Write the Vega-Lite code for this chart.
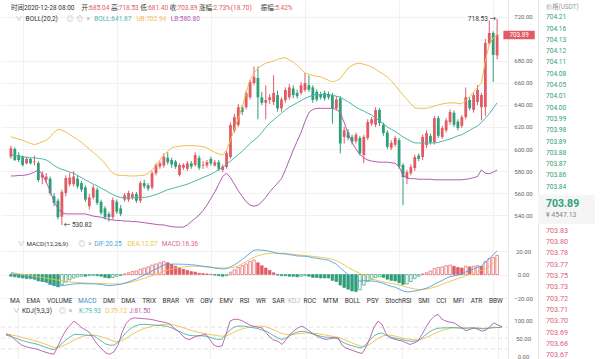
{
"$schema":"https://vega.github.io/schema/vega-lite/v6.json",
"padding":0,
"background":"white",
"config":{"view":{"stroke":null},"font":"Roboto, 'Noto Sans CJK SC', sans-serif","axis":{"labelFont":"Roboto","labelFontSize":6,"labelColor":"#666","labelOverlap":false,"ticks":false,"tickSize":0,"title":null,"gridColor":"#f1f1f1","domainColor":"#e6e6e6"},"text":{"font":"Roboto, 'Noto Sans CJK SC', sans-serif","baseline":"middle"}},
"datasets":{
"k":[
{"i":0,"o":593,"h":603,"l":591,"c":600.6,"u":611,"m":594.5,"b":575.5,"f":1.05,"e":1.8,"g":-1.5,"K":58,"D":60,"J":62},
{"i":1,"o":600,"h":601.5,"l":589,"c":590,"u":610,"m":594,"b":575.5,"f":0.3,"e":1.3,"g":-2,"K":55,"D":59,"J":58},
{"i":2,"o":594.5,"h":597,"l":588,"c":590,"u":609,"m":593.5,"b":576,"f":-0.55,"e":0.7,"g":-2.5,"K":51,"D":57,"J":48},
{"i":3,"o":593,"h":594,"l":584,"c":585.5,"u":608,"m":593,"b":576,"f":-1.3,"e":0.2,"g":-3,"K":47,"D":55,"J":38},
{"i":4,"o":587,"h":593,"l":586,"c":591,"u":606.5,"m":592.5,"b":576.5,"f":-2.05,"e":-0.3,"g":-3.5,"K":43,"D":52,"J":30},
{"i":5,"o":591,"h":592,"l":586,"c":587,"u":605,"m":592,"b":577.5,"f":-2.65,"e":-0.9,"g":-3.5,"K":40,"D":49,"J":26},
{"i":6,"o":588,"h":594,"l":585,"c":588.6,"u":604,"m":592,"b":579,"f":-3.4,"e":-1.4,"g":-4,"K":37,"D":46,"J":23},
{"i":7,"o":587.3,"h":589,"l":570,"c":571.8,"u":605,"m":591.5,"b":581,"f":-4.75,"e":-2,"g":-5.5,"K":35,"D":43,"J":21},
{"i":8,"o":574,"h":580,"l":568,"c":577,"u":606.5,"m":591,"b":577,"f":-5.5,"e":-2.5,"g":-6,"K":32,"D":40,"J":18},
{"i":9,"o":572,"h":578,"l":569,"c":575,"u":608,"m":590,"b":570,"f":-6.35,"e":-3.1,"g":-6.5,"K":28,"D":36,"J":14},
{"i":10,"o":573,"h":575,"l":558,"c":560,"u":611,"m":588,"b":562,"f":-7.95,"e":-3.7,"g":-8.5,"K":24,"D":32,"J":10},
{"i":11,"o":557,"h":560,"l":548,"c":551,"u":615,"m":585,"b":552,"f":-8.95,"e":-4.2,"g":-9.5,"K":20,"D":28,"J":7},
{"i":12,"o":553,"h":555,"l":536,"c":538,"u":618,"m":583,"b":546,"f":-10.05,"e":-4.8,"g":-10.5,"K":17,"D":24,"J":5},
{"i":13,"o":538.5,"h":563,"l":530.82,"c":561,"u":617,"m":581.5,"b":542,"f":-9.55,"e":-5.3,"g":-8.5,"K":25,"D":24,"J":28},
{"i":14,"o":560,"h":576,"l":557,"c":573.6,"u":615.5,"m":580.5,"b":541,"f":-9.05,"e":-5.8,"g":-6.5,"K":35,"D":27,"J":52},
{"i":15,"o":568,"h":578,"l":566,"c":574,"u":613,"m":579,"b":541,"f":-8.45,"e":-6.2,"g":-4.5,"K":45,"D":32,"J":72},
{"i":16,"o":568,"h":580,"l":566,"c":575,"u":611,"m":578,"b":541,"f":-8.1,"e":-6.6,"g":-3,"K":53,"D":38,"J":85},
{"i":17,"o":573,"h":576,"l":564,"c":566,"u":608.5,"m":576,"b":541,"f":-7.8,"e":-6.8,"g":-2,"K":60,"D":44,"J":97},
{"i":18,"o":569,"h":571,"l":561,"c":563,"u":606,"m":574,"b":541,"f":-7.75,"e":-7,"g":-1.5,"K":60,"D":49,"J":88},
{"i":19,"o":565,"h":567,"l":552,"c":554,"u":603,"m":572,"b":541,"f":-7.95,"e":-7.2,"g":-1.5,"K":59,"D":54,"J":78},
{"i":20,"o":548,"h":559,"l":545,"c":556,"u":600,"m":570,"b":540,"f":-7.9,"e":-7.4,"g":-1,"K":58,"D":57,"J":72},
{"i":21,"o":556,"h":567,"l":554,"c":565,"u":597,"m":568,"b":539,"f":-7.9,"e":-7.5,"g":-0.8,"K":57,"D":58,"J":64},
{"i":22,"o":563,"h":565,"l":549,"c":551,"u":594,"m":566.5,"b":538.5,"f":-8.1,"e":-7.6,"g":-1,"K":56,"D":58,"J":45},
{"i":23,"o":552,"h":554,"l":540,"c":542,"u":590.5,"m":564.5,"b":538,"f":-8.45,"e":-7.7,"g":-1.5,"K":48,"D":56,"J":30},
{"i":24,"o":546,"h":548,"l":536,"c":538,"u":587,"m":562.7,"b":537,"f":-9.05,"e":-7.8,"g":-2.5,"K":40,"D":53,"J":19},
{"i":25,"o":541,"h":543,"l":534,"c":538,"u":582,"m":560.5,"b":536,"f":-9.4,"e":-7.9,"g":-3,"K":33,"D":49,"J":8},
{"i":26,"o":538,"h":556,"l":536,"c":553.6,"u":578,"m":558.5,"b":535.5,"f":-9.25,"e":-8,"g":-2.5,"K":30,"D":45,"J":5},
{"i":27,"o":552,"h":554,"l":541,"c":543,"u":576.5,"m":557,"b":535,"f":-8.75,"e":-8,"g":-1.5,"K":30,"D":41,"J":12},
{"i":28,"o":546,"h":549,"l":539,"c":541,"u":576,"m":556,"b":535,"f":-8.3,"e":-7.9,"g":-0.8,"K":38,"D":40,"J":30},
{"i":29,"o":554,"h":560,"l":552,"c":558,"u":576,"m":555.5,"b":534.5,"f":-7.35,"e":-7.6,"g":0.5,"K":52,"D":43,"J":65},
{"i":30,"o":554,"h":562,"l":552,"c":560,"u":575.5,"m":555.5,"b":534.5,"f":-6.25,"e":-7,"g":1.5,"K":65,"D":49,"J":90},
{"i":31,"o":556,"h":561,"l":554,"c":559,"u":575.5,"m":555.5,"b":534,"f":-4.95,"e":-6.2,"g":2.5,"K":75,"D":56,"J":102},
{"i":32,"o":559,"h":561,"l":551,"c":553,"u":575.5,"m":556,"b":534,"f":-3.8,"e":-5.3,"g":3,"K":82,"D":63,"J":106},
{"i":33,"o":553,"h":571,"l":551,"c":569,"u":576,"m":556,"b":533.5,"f":-2.05,"e":-4.3,"g":4.5,"K":86,"D":69,"J":105},
{"i":34,"o":569,"h":572,"l":564,"c":566,"u":576,"m":556,"b":533,"f":-0.45,"e":-3.2,"g":5.5,"K":88,"D":74,"J":104},
{"i":35,"o":567,"h":569,"l":562,"c":564,"u":578,"m":556.5,"b":532.5,"f":1.15,"e":-2.1,"g":6.5,"K":88,"D":78,"J":103},
{"i":36,"o":565,"h":580,"l":563,"c":578,"u":581,"m":557.5,"b":532,"f":3,"e":-1,"g":8,"K":87,"D":81,"J":102},
{"i":37,"o":578,"h":587,"l":576,"c":585.5,"u":585,"m":558.5,"b":531.5,"f":4.8,"e":0.3,"g":9,"K":86,"D":84,"J":100},
{"i":38,"o":584,"h":589,"l":582,"c":587,"u":590,"m":560,"b":531,"f":6.5,"e":1.5,"g":10,"K":85,"D":86,"J":97},
{"i":39,"o":585,"h":596,"l":583,"c":593,"u":594.5,"m":561.5,"b":531,"f":8.05,"e":2.6,"g":10.9,"K":84,"D":87,"J":95},
{"i":40,"o":592,"h":597,"l":586,"c":588,"u":598,"m":563,"b":530,"f":8.7,"e":3.7,"g":10,"K":83,"D":88,"J":93},
{"i":41,"o":590,"h":592,"l":583,"c":586,"u":601,"m":564,"b":529.5,"f":8.85,"e":4.6,"g":8.5,"K":80,"D":88,"J":88},
{"i":42,"o":588.5,"h":590,"l":582,"c":584,"u":602,"m":565,"b":529,"f":8.9,"e":5.4,"g":7,"K":75,"D":86,"J":78},
{"i":43,"o":576.4,"h":587,"l":575,"c":585.5,"u":602.5,"m":566,"b":529,"f":8.75,"e":6,"g":5.5,"K":70,"D":83,"J":69},
{"i":44,"o":583,"h":587,"l":581,"c":585.5,"u":603,"m":567,"b":529,"f":8.75,"e":6.5,"g":4.5,"K":65,"D":80,"J":58},
{"i":45,"o":582,"h":589,"l":580,"c":587,"u":603,"m":568,"b":531,"f":8.55,"e":6.8,"g":3.5,"K":60,"D":76,"J":48},
{"i":46,"o":587,"h":589,"l":582,"c":584,"u":603,"m":569.5,"b":534,"f":8.25,"e":7,"g":2.5,"K":57,"D":72,"J":46},
{"i":47,"o":585.5,"h":597,"l":584,"c":594.5,"u":603,"m":571,"b":537,"f":8,"e":7,"g":2,"K":56,"D":69,"J":52},
{"i":48,"o":592,"h":594,"l":581,"c":583,"u":602.5,"m":572.5,"b":540,"f":7.4,"e":6.9,"g":1,"K":56,"D":66,"J":56},
{"i":49,"o":585,"h":589,"l":582,"c":585.6,"u":602,"m":574,"b":544,"f":7.1,"e":6.7,"g":0.8,"K":56,"D":64,"J":58},
{"i":50,"o":585,"h":590,"l":583,"c":588,"u":601,"m":575.5,"b":549,"f":6.65,"e":6.4,"g":0.5,"K":55,"D":62,"J":60},
{"i":51,"o":591,"h":593,"l":585,"c":587,"u":599,"m":577,"b":555,"f":6.2,"e":6.1,"g":0.2,"K":52,"D":60,"J":45},
{"i":52,"o":585,"h":590,"l":584,"c":588,"u":597,"m":579,"b":561,"f":5.55,"e":5.8,"g":-0.5,"K":48,"D":58,"J":30},
{"i":53,"o":588,"h":590,"l":580,"c":582,"u":595.5,"m":581,"b":568,"f":5.1,"e":5.6,"g":-1,"K":46,"D":56,"J":26},
{"i":54,"o":581,"h":586,"l":579,"c":584,"u":594.5,"m":583.5,"b":575,"f":4.75,"e":5.5,"g":-1.5,"K":47,"D":55,"J":28},
{"i":55,"o":583.6,"h":598,"l":582,"c":596.4,"u":599,"m":586,"b":578,"f":5,"e":5.5,"g":-1,"K":60,"D":56,"J":60},
{"i":56,"o":592.7,"h":624,"l":591,"c":621.8,"u":608,"m":589,"b":574,"f":6.6,"e":5.6,"g":2,"K":72,"D":60,"J":97},
{"i":57,"o":617,"h":632,"l":615,"c":629,"u":618,"m":592,"b":568,"f":8.2,"e":6.2,"g":4,"K":80,"D":66,"J":102},
{"i":58,"o":622,"h":641,"l":620,"c":638,"u":628,"m":595,"b":562,"f":10.4,"e":7.4,"g":6,"K":83,"D":71,"J":102},
{"i":59,"o":638,"h":640,"l":631,"c":633.6,"u":638,"m":598,"b":557,"f":12.75,"e":9,"g":7.5,"K":83,"D":75,"J":98},
{"i":60,"o":638,"h":653,"l":636,"c":651,"u":651,"m":601.5,"b":552,"f":15.5,"e":11,"g":9,"K":82,"D":78,"J":92},
{"i":61,"o":647,"h":663,"l":645,"c":661,"u":663,"m":605,"b":549,"f":18.3,"e":12.8,"g":11,"K":80,"D":80,"J":86},
{"i":62,"o":660,"h":675,"l":658,"c":665.5,"u":669,"m":608,"b":548,"f":20.65,"e":14.5,"g":12.3,"K":78,"D":82,"J":82},
{"i":63,"o":664.5,"h":675,"l":627,"c":647,"u":673.6,"m":611,"b":549,"f":21,"e":16,"g":10,"K":76,"D":83,"J":80},
{"i":64,"o":647,"h":652,"l":640,"c":642,"u":676,"m":615,"b":552,"f":20.65,"e":16.9,"g":7.5,"K":72,"D":83,"J":78},
{"i":65,"o":642,"h":658,"l":627,"c":644.5,"u":678,"m":619.5,"b":556,"f":20.35,"e":17.6,"g":5.5,"K":69,"D":81,"J":65},
{"i":66,"o":644.5,"h":650,"l":641,"c":647,"u":679,"m":623.5,"b":561,"f":19.75,"e":18,"g":3.5,"K":63,"D":77,"J":52},
{"i":67,"o":642.7,"h":667,"l":640,"c":651,"u":680,"m":626.5,"b":565,"f":18.95,"e":18.2,"g":1.5,"K":56,"D":72,"J":44},
{"i":68,"o":649,"h":653,"l":634,"c":637,"u":681.5,"m":629.5,"b":569,"f":17.95,"e":18.2,"g":-0.5,"K":50,"D":67,"J":41},
{"i":69,"o":637,"h":647,"l":634,"c":645,"u":682.5,"m":632.5,"b":573,"f":17.6,"e":18.1,"g":-1,"K":46,"D":62,"J":32},
{"i":70,"o":644.5,"h":656,"l":642,"c":653.6,"u":683,"m":635.5,"b":581,"f":17.5,"e":18,"g":-1,"K":50,"D":60,"J":45},
{"i":71,"o":647,"h":659,"l":645,"c":656,"u":681,"m":638,"b":590,"f":16.85,"e":17.6,"g":-1.5,"K":57,"D":59,"J":60},
{"i":72,"o":655,"h":658,"l":646,"c":649,"u":679,"m":640,"b":599,"f":16.45,"e":17.2,"g":-1.5,"K":63,"D":60,"J":70},
{"i":73,"o":651,"h":654,"l":646,"c":648,"u":676,"m":642,"b":607,"f":15.8,"e":16.8,"g":-2,"K":67,"D":62,"J":78},
{"i":74,"o":651,"h":661,"l":649,"c":658,"u":672.5,"m":644,"b":615,"f":15.65,"e":16.4,"g":-1.5,"K":69,"D":63,"J":83},
{"i":75,"o":653.6,"h":669,"l":652,"c":660,"u":669,"m":646,"b":625,"f":15.6,"e":16.1,"g":-1,"K":67,"D":64,"J":76},
{"i":76,"o":658,"h":667,"l":652,"c":654,"u":668,"m":647.5,"b":633,"f":15.05,"e":15.8,"g":-1.5,"K":64,"D":64,"J":68},
{"i":77,"o":656,"h":658,"l":642,"c":644.5,"u":667,"m":649,"b":636,"f":14.25,"e":15.5,"g":-2.5,"K":60,"D":63,"J":60},
{"i":78,"o":652,"h":654,"l":643,"c":645,"u":666,"m":649.5,"b":637,"f":13.85,"e":15.1,"g":-2.5,"K":57,"D":62,"J":54},
{"i":79,"o":650,"h":652,"l":645,"c":647,"u":665.5,"m":649.5,"b":637,"f":13.2,"e":14.7,"g":-3,"K":54,"D":60,"J":49},
{"i":80,"o":651,"h":653,"l":644,"c":646,"u":664,"m":649.5,"b":637,"f":12.7,"e":14.2,"g":-3,"K":52,"D":58,"J":46},
{"i":81,"o":650,"h":652,"l":645,"c":647,"u":662.5,"m":649,"b":637,"f":12.2,"e":13.7,"g":-3,"K":52,"D":56,"J":48},
{"i":82,"o":649,"h":651,"l":623,"c":637,"u":661,"m":649,"b":637,"f":10.5,"e":13,"g":-5,"K":51,"D":54,"J":50},
{"i":83,"o":637,"h":648,"l":635,"c":645,"u":662,"m":648,"b":636,"f":8.8,"e":11.8,"g":-6,"K":47,"D":52,"J":51},
{"i":84,"o":646,"h":648,"l":596,"c":605,"u":664,"m":647,"b":633,"f":5.7,"e":10.2,"g":-9,"K":40,"D":48,"J":30},
{"i":85,"o":611,"h":620,"l":605,"c":617,"u":669,"m":645,"b":624,"f":2.7,"e":8.2,"g":-11,"K":34,"D":44,"J":22},
{"i":86,"o":615,"h":618,"l":608,"c":610,"u":673.6,"m":643,"b":614,"f":-0.25,"e":6,"g":-12.5,"K":30,"D":39,"J":18},
{"i":87,"o":611,"h":613,"l":604,"c":606.6,"u":676,"m":640.5,"b":606,"f":-2.8,"e":4.2,"g":-14,"K":27,"D":34,"J":14},
{"i":88,"o":607,"h":615,"l":605,"c":613,"u":677.5,"m":638,"b":600,"f":-4.65,"e":2.6,"g":-14.5,"K":24,"D":30,"J":10},
{"i":89,"o":610,"h":612,"l":594,"c":596,"u":678,"m":636,"b":595,"f":-5.5,"e":1,"g":-13,"K":23,"D":27,"J":7},
{"i":90,"o":594.5,"h":613,"l":587,"c":611,"u":677,"m":634.5,"b":592,"f":-5.3,"e":-0.8,"g":-9,"K":32,"D":27,"J":25},
{"i":91,"o":610,"h":627,"l":608,"c":624.5,"u":676,"m":632.5,"b":590,"f":-5.2,"e":-2.2,"g":-6,"K":45,"D":33,"J":50},
{"i":92,"o":623,"h":629,"l":621,"c":627,"u":674.5,"m":631,"b":589,"f":-5.5,"e":-3.5,"g":-4,"K":56,"D":41,"J":80},
{"i":93,"o":622,"h":638,"l":620,"c":635.5,"u":672.5,"m":628,"b":588.5,"f":-5.85,"e":-4.6,"g":-2.5,"K":62,"D":49,"J":97},
{"i":94,"o":635.5,"h":637,"l":621,"c":623.6,"u":670,"m":625.5,"b":588,"f":-6.6,"e":-5.6,"g":-2,"K":64,"D":55,"J":88},
{"i":95,"o":622,"h":624,"l":612,"c":614.5,"u":668,"m":623,"b":588,"f":-7.55,"e":-6.3,"g":-2.5,"K":58,"D":58,"J":62},
{"i":96,"o":615,"h":617,"l":600,"c":602,"u":665.5,"m":620,"b":588,"f":-8.9,"e":-6.9,"g":-4,"K":53,"D":58,"J":51},
{"i":97,"o":601,"h":608,"l":599,"c":605.6,"u":662,"m":618,"b":587.5,"f":-10,"e":-7.5,"g":-5,"K":50,"D":56,"J":47},
{"i":98,"o":604,"h":612,"l":602,"c":610,"u":658,"m":616,"b":587,"f":-10.85,"e":-8.1,"g":-5.5,"K":48,"D":53,"J":44},
{"i":99,"o":608,"h":610,"l":582,"c":584,"u":653.5,"m":613.5,"b":584,"f":-12.3,"e":-8.8,"g":-7,"K":46,"D":50,"J":42},
{"i":100,"o":585.5,"h":587,"l":549,"c":574.5,"u":649,"m":611,"b":576,"f":-14.05,"e":-9.8,"g":-8.5,"K":43,"D":48,"J":37},
{"i":101,"o":573.6,"h":581,"l":568,"c":579,"u":645,"m":609,"b":573.5,"f":-14.8,"e":-10.8,"g":-8,"K":41,"D":46,"J":32},
{"i":102,"o":578,"h":586,"l":576,"c":583.6,"u":641,"m":607,"b":573,"f":-14.6,"e":-11.6,"g":-6,"K":41,"D":45,"J":36},
{"i":103,"o":582.7,"h":595,"l":580,"c":592.7,"u":637.5,"m":605.5,"b":573,"f":-14.05,"e":-12.3,"g":-3.5,"K":42,"D":45,"J":42},
{"i":104,"o":594,"h":596,"l":589,"c":591,"u":637,"m":605.5,"b":572.5,"f":-13.55,"e":-12.8,"g":-1.5,"K":50,"D":47,"J":60},
{"i":105,"o":592.7,"h":613,"l":590,"c":611,"u":637,"m":605.5,"b":572.5,"f":-12.55,"e":-12.8,"g":0.5,"K":60,"D":51,"J":80},
{"i":106,"o":603.6,"h":617,"l":601,"c":614.5,"u":637,"m":605.5,"b":572.5,"f":-11.65,"e":-12.4,"g":1.5,"K":68,"D":56,"J":98},
{"i":107,"o":612,"h":614,"l":604,"c":606,"u":638,"m":605.5,"b":572.5,"f":-10.2,"e":-11.7,"g":3,"K":74,"D":62,"J":110},
{"i":108,"o":606,"h":630,"l":604,"c":628,"u":639,"m":605.5,"b":572,"f":-8.3,"e":-10.8,"g":5,"K":77,"D":67,"J":116},
{"i":109,"o":628,"h":630,"l":610,"c":612,"u":640,"m":606,"b":572,"f":-6.6,"e":-9.6,"g":6,"K":78,"D":71,"J":102},
{"i":110,"o":611,"h":621,"l":609,"c":619,"u":641,"m":607,"b":572,"f":-5.05,"e":-8.3,"g":6.5,"K":78,"D":74,"J":97},
{"i":111,"o":617,"h":628,"l":615,"c":626,"u":641.5,"m":608,"b":572,"f":-3.25,"e":-7,"g":7.5,"K":79,"D":77,"J":94},
{"i":112,"o":624.5,"h":636,"l":622,"c":633.6,"u":642,"m":609,"b":572,"f":-1.8,"e":-5.8,"g":8,"K":79,"D":78,"J":92},
{"i":113,"o":633,"h":635,"l":620,"c":622,"u":642,"m":610.5,"b":572,"f":-1.1,"e":-4.6,"g":7,"K":78,"D":78,"J":85},
{"i":114,"o":625,"h":627,"l":617,"c":619,"u":641.5,"m":612,"b":572,"f":-0.5,"e":-3.5,"g":6,"K":77,"D":78,"J":78},
{"i":115,"o":621,"h":631,"l":619,"c":629,"u":641,"m":613,"b":572,"f":0.35,"e":-2.4,"g":5.5,"K":77,"D":78,"J":70},
{"i":116,"o":629,"h":656,"l":627,"c":647,"u":644,"m":615,"b":572.5,"f":2.3,"e":-1.2,"g":7,"K":78,"D":78,"J":74},
{"i":117,"o":644.5,"h":647,"l":635,"c":637,"u":647.5,"m":617,"b":573,"f":3.25,"e":0,"g":6.5,"K":78,"D":78,"J":78},
{"i":118,"o":635.5,"h":651,"l":633,"c":649,"u":652,"m":619,"b":574,"f":4.7,"e":1.2,"g":7,"K":77,"D":78,"J":74},
{"i":119,"o":642.7,"h":658,"l":640,"c":653.6,"u":656,"m":621,"b":575,"f":6.15,"e":2.4,"g":7.5,"K":76,"D":77,"J":69},
{"i":120,"o":638,"h":651,"l":626,"c":649,"u":660,"m":624,"b":581,"f":7,"e":3.5,"g":7,"K":76,"D":77,"J":72},
{"i":121,"o":638,"h":700,"l":630,"c":696.4,"u":680,"m":628,"b":578,"f":10.5,"e":5,"g":11,"K":78,"D":77,"J":82},
{"i":122,"o":696,"h":717,"l":694,"c":705.5,"u":695,"m":632,"b":577.5,"f":13.75,"e":7,"g":13.5,"K":80,"D":78,"J":92},
{"i":123,"o":705.5,"h":707,"l":661,"c":685.5,"u":701,"m":637,"b":579,"f":16.75,"e":9.5,"g":14.5,"K":79,"D":79,"J":86},
{"i":124,"o":685.04,"h":718.53,"l":681.4,"c":703.89,"u":702.94,"m":641.87,"b":580.8,"f":20.25,"e":12.07,"g":16.36,"K":79.93,"D":79.12,"J":81.5}
],
"ob":[
{"r":0.1,"t":"价格(USDT)","s":"hdr"},
{"r":1,"t":"704.21","s":"ask"},{"r":2,"t":"704.16","s":"ask"},{"r":3,"t":"704.13","s":"ask"},{"r":4,"t":"704.12","s":"ask"},
{"r":5,"t":"704.11","s":"ask"},{"r":6,"t":"704.08","s":"ask"},{"r":7,"t":"704.05","s":"ask"},{"r":8,"t":"704.01","s":"ask"},
{"r":9,"t":"704.00","s":"ask"},{"r":10,"t":"703.99","s":"ask"},{"r":11,"t":"703.98","s":"ask"},{"r":12,"t":"703.89","s":"ask"},
{"r":13,"t":"703.88","s":"ask"},{"r":14,"t":"703.87","s":"ask"},{"r":15,"t":"703.86","s":"ask"},{"r":16,"t":"703.84","s":"ask"},
{"r":17.5,"t":"703.89","s":"last"},
{"r":18.5,"t":"¥ 4547.13","s":"cny"},
{"r":19.9,"t":"703.83","s":"bid"},{"r":20.9,"t":"703.80","s":"bid"},{"r":21.9,"t":"703.78","s":"bid"},{"r":22.9,"t":"703.77","s":"bid"},
{"r":23.9,"t":"703.75","s":"bid"},{"r":24.9,"t":"703.73","s":"bid"},{"r":25.9,"t":"703.72","s":"bid"},{"r":26.9,"t":"703.71","s":"bid"},
{"r":27.9,"t":"703.70","s":"bid"},{"r":28.9,"t":"703.69","s":"bid"},{"r":29.9,"t":"703.68","s":"bid"},{"r":30.9,"t":"703.67","s":"bid"}
],
"lv":[{"v":20},{"v":50},{"v":80}]
},
"bounds":"full",
"spacing":3,
"hconcat":[
{"vconcat":[
{"width":507,"height":233,"data":{"name":"k"},
"layer":[
{"mark":{"type":"rule","strokeWidth":1},
"encoding":{
"x":{"field":"i","type":"quantitative","scale":{"domain":[-1.25,125.5],"nice":false,"zero":false},"axis":{"orient":"bottom","values":[3,27,51,75,99,123],"tickCount":20,"grid":true,"labels":false,"domain":false}},
"y":{"field":"l","type":"quantitative","scale":{"domain":[523.64,735.45],"nice":false,"zero":false},"axis":{"orient":"right","values":[540,560,580,600,620,640,660,680,720],"tickCount":20,"format":".2f","grid":true,"labelAlign":"center","labelPadding":15,"domain":true}},
"y2":{"field":"h"},
"color":{"condition":{"test":"datum.c>=datum.o","value":"#e15b64"},"value":"#2f9f79"}}},
{"mark":{"type":"bar","size":2.8},
"encoding":{"x":{"field":"i","type":"quantitative"},"y":{"field":"o","type":"quantitative"},"y2":{"field":"c"},
"color":{"condition":{"test":"datum.c>=datum.o","value":"#e15b64"},"value":"#2f9f79"}}},
{"mark":{"type":"line","color":"#f0bf4c","strokeWidth":1},"encoding":{"x":{"field":"i","type":"quantitative"},"y":{"field":"u","type":"quantitative"}}},
{"mark":{"type":"line","color":"#4db6ac","strokeWidth":1},"encoding":{"x":{"field":"i","type":"quantitative"},"y":{"field":"m","type":"quantitative"}}},
{"mark":{"type":"line","color":"#b35aae","strokeWidth":1},"encoding":{"x":{"field":"i","type":"quantitative"},"y":{"field":"b","type":"quantitative"}}},
{"data":{"values":[{}]},"mark":{"type":"text","text":"时间2020-12-28 08:00","align":"left","fontSize":6.5,"color":"#333"},"encoding":{"x":{"datum":0},"y":{"datum":727.9}}},
{"data":{"values":[{}]},"mark":{"type":"text","text":"开:","align":"left","fontSize":6.5,"color":"#333"},"encoding":{"x":{"datum":18},"y":{"datum":727.9}}},
{"data":{"values":[{}]},"mark":{"type":"text","text":"685.04","align":"left","fontSize":6.5,"color":"#e15b64"},"encoding":{"x":{"datum":20},"y":{"datum":727.9}}},
{"data":{"values":[{}]},"mark":{"type":"text","text":"高:","align":"left","fontSize":6.5,"color":"#333"},"encoding":{"x":{"datum":25.5},"y":{"datum":727.9}}},
{"data":{"values":[{}]},"mark":{"type":"text","text":"718.53","align":"left","fontSize":6.5,"color":"#e15b64"},"encoding":{"x":{"datum":27.5},"y":{"datum":727.9}}},
{"data":{"values":[{}]},"mark":{"type":"text","text":"低:","align":"left","fontSize":6.5,"color":"#333"},"encoding":{"x":{"datum":33},"y":{"datum":727.9}}},
{"data":{"values":[{}]},"mark":{"type":"text","text":"681.40","align":"left","fontSize":6.5,"color":"#e15b64"},"encoding":{"x":{"datum":35},"y":{"datum":727.9}}},
{"data":{"values":[{}]},"mark":{"type":"text","text":"收:","align":"left","fontSize":6.5,"color":"#333"},"encoding":{"x":{"datum":40.5},"y":{"datum":727.9}}},
{"data":{"values":[{}]},"mark":{"type":"text","text":"703.89","align":"left","fontSize":6.5,"color":"#e15b64"},"encoding":{"x":{"datum":42.5},"y":{"datum":727.9}}},
{"data":{"values":[{}]},"mark":{"type":"text","text":"涨幅:","align":"left","fontSize":6.5,"color":"#333"},"encoding":{"x":{"datum":48},"y":{"datum":727.9}}},
{"data":{"values":[{}]},"mark":{"type":"text","text":"2.73%(18.70)","align":"left","fontSize":6.5,"color":"#e15b64"},"encoding":{"x":{"datum":51.65},"y":{"datum":727.9}}},
{"data":{"values":[{}]},"mark":{"type":"text","text":"振幅:","align":"left","fontSize":6.5,"color":"#333"},"encoding":{"x":{"datum":63.75},"y":{"datum":727.9}}},
{"data":{"values":[{}]},"mark":{"type":"text","text":"5.42%","align":"left","fontSize":6.5,"color":"#e15b64"},"encoding":{"x":{"datum":67.4},"y":{"datum":727.9}}},
{"data":{"values":[{}]},"mark":{"type":"text","text":"∨","align":"left","fontSize":6.5,"color":"#999"},"encoding":{"x":{"datum":1.25},"y":{"datum":718.2}}},
{"data":{"values":[{}]},"mark":{"type":"text","text":"BOLL(20,2)","align":"left","fontSize":6.5,"color":"#333"},"encoding":{"x":{"datum":3.75},"y":{"datum":718.2}}},
{"data":{"values":[{}]},"mark":{"type":"text","text":"◎\u2002⊙\u2002×","align":"left","fontSize":6.5,"color":"#aaa"},"encoding":{"x":{"datum":14.25},"y":{"datum":718.2}}},
{"data":{"values":[{}]},"mark":{"type":"text","text":"BOLL:641.87","align":"left","fontSize":6.5,"color":"#4db6ac"},"encoding":{"x":{"datum":21.25},"y":{"datum":718.2}}},
{"data":{"values":[{}]},"mark":{"type":"text","text":"UB:702.94","align":"left","fontSize":6.5,"color":"#f0bf4c"},"encoding":{"x":{"datum":32},"y":{"datum":718.2}}},
{"data":{"values":[{}]},"mark":{"type":"text","text":"LB:580.80","align":"left","fontSize":6.5,"color":"#b35aae"},"encoding":{"x":{"datum":40.75},"y":{"datum":718.2}}},
{"data":{"values":[{}]},"mark":{"type":"text","text":"718.53 →","align":"right","fontSize":6.5,"color":"#333"},"encoding":{"x":{"datum":123.7},"y":{"datum":718.53}}},
{"data":{"values":[{}]},"mark":{"type":"text","text":"← 530.82","align":"left","fontSize":6.5,"color":"#333"},"encoding":{"x":{"datum":13.5},"y":{"datum":530.82}}},
{"data":{"values":[{}]},"mark":{"type":"rect","color":"#e15b64"},"encoding":{"x":{"datum":125.6},"x2":{"datum":133.6},"y":{"datum":699.8},"y2":{"datum":707.6}}},
{"data":{"values":[{}]},"mark":{"type":"text","text":"703.89","align":"center","fontSize":6.3,"color":"#ffffff"},"encoding":{"x":{"datum":129.6},"y":{"datum":703.7}}}
]},
{"width":507,"height":67,"data":{"name":"k"},
"transform":[{"window":[{"op":"lag","field":"g","as":"pg"}],"sort":[{"field":"i"}]}],
"layer":[
{"mark":{"type":"bar","size":2.6,"strokeWidth":0.7},
"encoding":{
"x":{"field":"i","type":"quantitative","scale":{"domain":[-1.25,125.5],"nice":false,"zero":false},"axis":{"orient":"bottom","values":[3,27,51,75,99,123],"tickCount":20,"grid":true,"labels":false,"domain":false}},
"y":{"field":"g","type":"quantitative","scale":{"domain":[-21.7,35.32],"nice":false,"zero":false},"axis":{"orient":"right","values":[-20,0,20],"tickCount":20,"format":".2f","grid":true,"labelAlign":"center","labelPadding":15,"domain":true}},
"y2":{"datum":0},
"stroke":{"condition":{"test":"datum.g>=0","value":"#e15b64"},"value":"#2f9f79"},
"fill":{"condition":[{"test":"datum.g>datum.pg","value":"#ffffff"},{"test":"datum.g>=0","value":"#e15b64"}],"value":"#2f9f79"}}},
{"mark":{"type":"line","color":"#f0bf4c","strokeWidth":0.9},"encoding":{"x":{"field":"i","type":"quantitative"},"y":{"field":"e","type":"quantitative"}}},
{"mark":{"type":"line","color":"#4aa3df","strokeWidth":0.9},"encoding":{"x":{"field":"i","type":"quantitative"},"y":{"field":"f","type":"quantitative"}}},
{"data":{"values":[{}]},"mark":{"type":"text","text":"∨","align":"left","fontSize":6.5,"color":"#999"},"encoding":{"x":{"datum":1.75},"y":{"datum":25.96}}},
{"data":{"values":[{}]},"mark":{"type":"text","text":"MACD(12,26,9)","align":"left","fontSize":6.2,"color":"#333"},"encoding":{"x":{"datum":4},"y":{"datum":25.96}}},
{"data":{"values":[{}]},"mark":{"type":"text","text":"◎\u2002×","align":"left","fontSize":6.5,"color":"#aaa"},"encoding":{"x":{"datum":17.25},"y":{"datum":25.96}}},
{"data":{"values":[{}]},"mark":{"type":"text","text":"DIF:20.25","align":"left","fontSize":6.5,"color":"#4aa3df"},"encoding":{"x":{"datum":21.25},"y":{"datum":25.96}}},
{"data":{"values":[{}]},"mark":{"type":"text","text":"DEA:12.07","align":"left","fontSize":6.5,"color":"#f0bf4c"},"encoding":{"x":{"datum":29.75},"y":{"datum":25.96}}},
{"data":{"values":[{}]},"mark":{"type":"text","text":"MACD:16.36","align":"left","fontSize":6.5,"color":"#e06a84"},"encoding":{"x":{"datum":38.5},"y":{"datum":25.96}}}
]},
{"width":507,"height":59,"data":{"name":"k"},
"layer":[
{"data":{"name":"lv"},"mark":{"type":"rule","color":"#dddddd","strokeDash":[4,3],"strokeWidth":0.8},
"encoding":{
"x":{"datum":-1.25,"type":"quantitative","scale":{"domain":[-1.25,125.5],"nice":false,"zero":false},"axis":{"orient":"bottom","values":[3,27,51,75,99,123],"tickCount":20,"grid":true,"labels":false,"domain":false}},
"x2":{"datum":125.5},
"y":{"field":"v","type":"quantitative","scale":{"domain":[-8.33,155.56],"nice":false,"zero":false},"axis":{"orient":"right","values":[0,50,100],"tickCount":20,"format":".2f","grid":false,"labelAlign":"center","labelPadding":15,"domain":true}}}},
{"mark":{"type":"line","color":"#f0bf4c","strokeWidth":0.9},"encoding":{"x":{"field":"i","type":"quantitative"},"y":{"field":"D","type":"quantitative"}}},
{"mark":{"type":"line","color":"#4db6ac","strokeWidth":0.9},"encoding":{"x":{"field":"i","type":"quantitative"},"y":{"field":"K","type":"quantitative"}}},
{"mark":{"type":"line","color":"#b35aae","strokeWidth":0.9},"encoding":{"x":{"field":"i","type":"quantitative"},"y":{"field":"J","type":"quantitative"}}},
{"data":{"values":[{}]},"mark":{"type":"text","text":"MA\u2002\u2002EMA\u2002\u2002VOLUME","align":"left","fontSize":6.5,"color":"#333"},"encoding":{"x":{"datum":1},"y":{"datum":153.6}}},
{"data":{"values":[{}]},"mark":{"type":"text","text":"MACD","align":"left","fontSize":6.5,"color":"#3d8fd6"},"encoding":{"x":{"datum":18},"y":{"datum":153.6}}},
{"data":{"values":[{}]},"mark":{"type":"text","text":"DMI\u2002\u2002DMA\u2002\u2002TRIX\u2002\u2002BRAR\u2002\u2002VR\u2002\u2002OBV\u2002\u2002EMV\u2002\u2002RSI\u2002\u2002WR\u2002\u2002SAR","align":"left","fontSize":6.5,"color":"#333"},"encoding":{"x":{"datum":24.25},"y":{"datum":153.6}}},
{"data":{"values":[{}]},"mark":{"type":"text","text":"KDJ","align":"left","fontSize":6.5,"color":"#bbbbbb"},"encoding":{"x":{"datum":70.5},"y":{"datum":153.6}}},
{"data":{"values":[{}]},"mark":{"type":"text","text":"ROC\u2002\u2002MTM\u2002\u2002BOLL\u2002\u2002PSY\u2002\u2002StochRSI\u2002\u2002SMI\u2002\u2002CCI\u2002\u2002MFI\u2002\u2002ATR\u2002\u2002BBW","align":"left","fontSize":6.5,"color":"#333"},"encoding":{"x":{"datum":74.4},"y":{"datum":153.6}}},
{"data":{"values":[{}]},"mark":{"type":"text","text":"∨","align":"left","fontSize":6.5,"color":"#999"},"encoding":{"x":{"datum":1.75},"y":{"datum":125.8}}},
{"data":{"values":[{}]},"mark":{"type":"text","text":"KDJ(9,3,3)","align":"left","fontSize":6.5,"color":"#333"},"encoding":{"x":{"datum":4},"y":{"datum":125.8}}},
{"data":{"values":[{}]},"mark":{"type":"text","text":"◎\u2002×","align":"left","fontSize":6.5,"color":"#aaa"},"encoding":{"x":{"datum":13.25},"y":{"datum":125.8}}},
{"data":{"values":[{}]},"mark":{"type":"text","text":"K:79.93","align":"left","fontSize":6.5,"color":"#4db6ac"},"encoding":{"x":{"datum":18.25},"y":{"datum":125.8}}},
{"data":{"values":[{}]},"mark":{"type":"text","text":"D:79.12","align":"left","fontSize":6.5,"color":"#f0bf4c"},"encoding":{"x":{"datum":24.75},"y":{"datum":125.8}}},
{"data":{"values":[{}]},"mark":{"type":"text","text":"J:81.50","align":"left","fontSize":6.5,"color":"#b35aae"},"encoding":{"x":{"datum":30.75},"y":{"datum":125.8}}}
]}
],"spacing":0,"bounds":"flush"},
{"width":57,"height":359,"data":{"name":"ob"},
"layer":[
{"data":{"values":[{}]},"mark":{"type":"rect","color":"#f5f5f5"},"encoding":{"y":{"datum":16.7,"type":"quantitative","scale":{"domain":[-0.53,31.24],"reverse":true,"nice":false,"zero":false},"axis":{"orient":"left","labels":false,"grid":false,"domain":true}},"y2":{"datum":19.3}}},
{"transform":[{"filter":"datum.s!='last'"}],"mark":{"type":"text","align":"left","x":8},
"encoding":{"y":{"field":"r","type":"quantitative"},"text":{"field":"t"},
"color":{"field":"s","type":"nominal","scale":{"domain":["hdr","ask","cny","bid"],"range":["#9a9a9a","#2f9f79","#888888","#e0607a"]},"legend":null},
"size":{"field":"s","type":"nominal","scale":{"domain":["hdr","ask","cny","bid"],"range":[6.3,7.2,6.5,7.2]},"legend":null}}},
{"transform":[{"filter":"datum.s=='last'"}],"mark":{"type":"text","align":"left","x":8,"fontSize":10.5,"fontWeight":"bold","color":"#2f9f79"},
"encoding":{"y":{"field":"r","type":"quantitative"},"text":{"field":"t"}}}
]}
]
}
